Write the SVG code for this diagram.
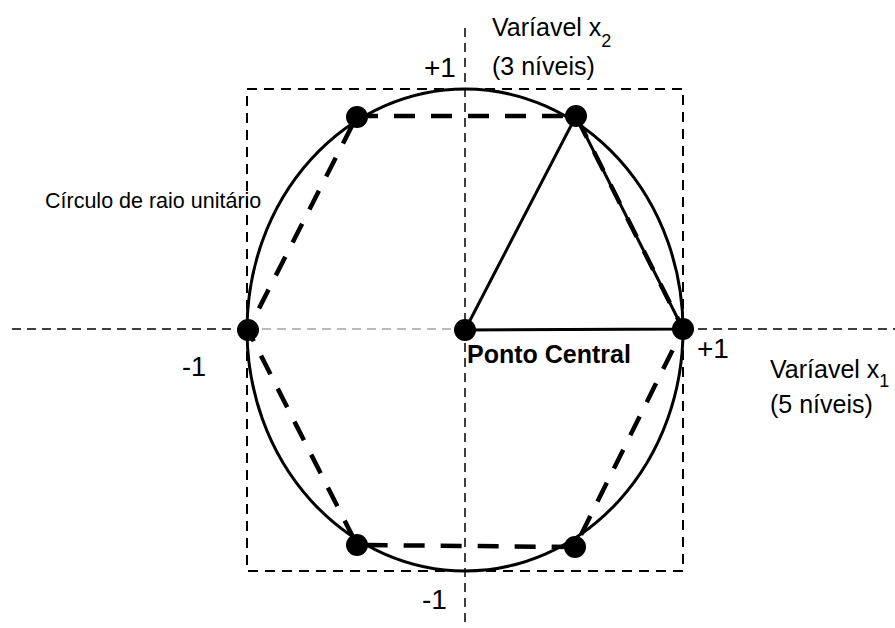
<svg xmlns="http://www.w3.org/2000/svg" width="895" height="628" viewBox="0 0 895 628">
<style>
.t{font-family:"Liberation Sans",Arial,sans-serif;fill:#000}
.axis{fill:none;stroke:#000;stroke-width:1.5;stroke-dasharray:9 6}
.axisin{fill:none;stroke:#777;stroke-width:1.2;stroke-dasharray:9 6}
.box{fill:none;stroke:#000;stroke-width:2;stroke-dasharray:10 7}
.hex{fill:none;stroke:#000;stroke-width:4.5;stroke-dasharray:21 16}
.solid{fill:none;stroke:#000;stroke-width:3}
.dot{fill:#000}
</style>
<rect width="895" height="628" fill="#fff"/>
<g id="connectors">
<line class="axis" x1="12" y1="329" x2="247" y2="329"/>
<line class="axisin" x1="247" y1="329" x2="465" y2="329"/>
<line class="axis" x1="683" y1="329" x2="895" y2="329"/>
<line class="axis" x1="465" y1="28" x2="465" y2="628"/>
<rect class="box" x="247" y="89" width="436" height="482"/>
<ellipse class="solid" cx="465" cy="330" rx="218" ry="241" stroke-width="2.5"/>
<polygon class="hex" points="357,116 576,116 683,329 575,547 357,545 248,330"/>
<polyline class="solid" points="465,330 576,116 683,329 465,330"/>
</g>
<g id="points">
<circle class="dot" cx="357" cy="117" r="11"/>
<circle class="dot" cx="576" cy="116" r="11"/>
<circle class="dot" cx="683" cy="329" r="11"/>
<circle class="dot" cx="575" cy="547" r="11"/>
<circle class="dot" cx="357" cy="545" r="11"/>
<circle class="dot" cx="248" cy="330" r="11"/>
<circle class="dot" cx="465" cy="330" r="11"/>
</g>
<g id="labels">
<text class="t" x="492" y="36" font-size="25">Varíavel x<tspan font-size="18" dy="11">2</tspan></text>
<text class="t" x="492" y="75" font-size="25">(3 níveis)</text>
<text class="t" x="424" y="77" font-size="28">+1</text>
<text class="t" x="45" y="208" font-size="21.5">Círculo de raio unitário</text>
<text class="t" x="182" y="376" font-size="27">-1</text>
<text class="t" x="697" y="358" font-size="28">+1</text>
<text class="t" x="467" y="363" font-size="25" font-weight="bold">Ponto Central</text>
<text class="t" x="770" y="378" font-size="25">Varíavel x<tspan font-size="18" dy="9">1</tspan></text>
<text class="t" x="770" y="413" font-size="25">(5 níveis)</text>
<text class="t" x="422" y="609" font-size="28">-1</text>
</g>
</svg>
